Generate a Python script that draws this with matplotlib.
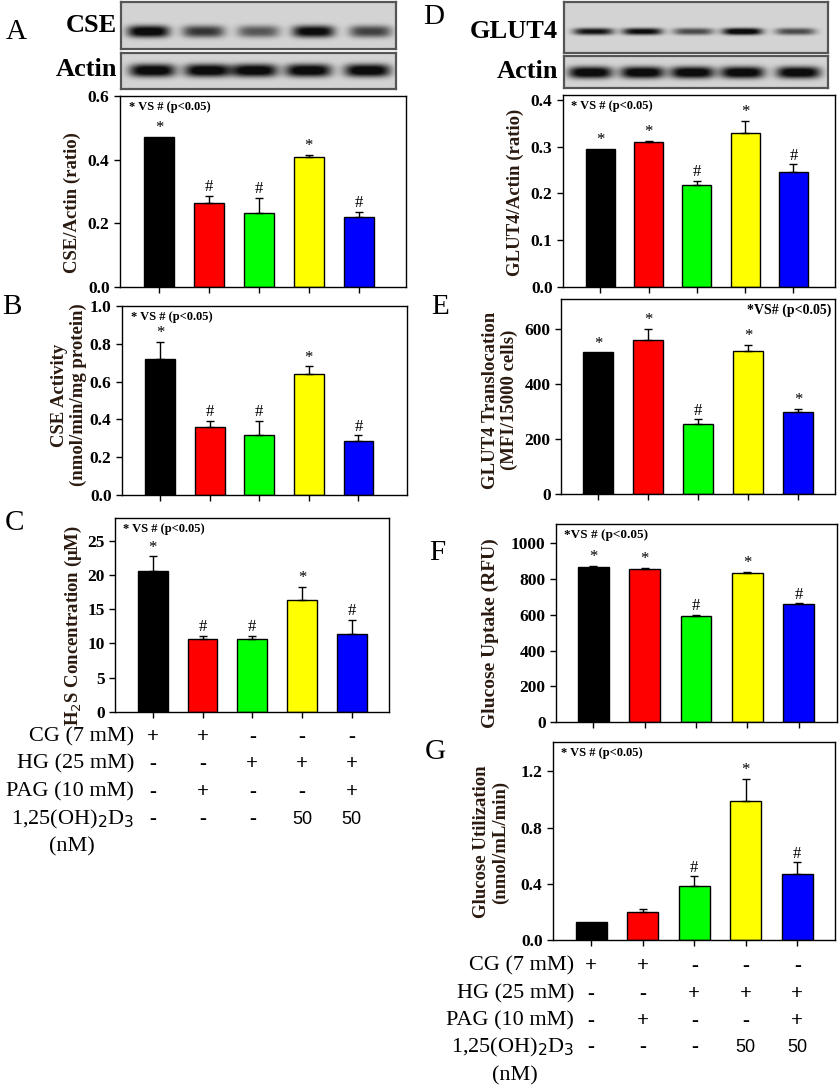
import numpy as np
import matplotlib
matplotlib.use("Agg")
import matplotlib.pyplot as plt
from matplotlib.transforms import blended_transform_factory

W, H, DPI = 840, 1088, 100
SERIF = "Liberation Serif"
SANS = "Liberation Sans"

# ---------------- data ----------------
groups = ["CG", "CG+PAG", "HG", "HG+D3", "HG+PAG+D3"]
colors = ["#000000", "#ff0000", "#00ff00", "#ffff00", "#0000ff"]

cse_ratio = [0.471, 0.264, 0.232, 0.408, 0.220]
cse_ratio_err = [0.0, 0.022, 0.047, 0.007, 0.016]
cse_ratio_sig = ["*", "#", "#", "*", "#"]

cse_activity = [0.722, 0.361, 0.315, 0.639, 0.287]
cse_activity_err = [0.088, 0.031, 0.076, 0.041, 0.028]
cse_activity_sig = ["*", "#", "#", "*", "#"]

h2s_conc = [20.5, 10.7, 10.7, 16.3, 11.4]
h2s_conc_err = [2.2, 0.4, 0.4, 2.0, 2.0]
h2s_sig = ["*", "#", "#", "*", "#"]

glut4_ratio = [0.295, 0.309, 0.217, 0.329, 0.246]
glut4_ratio_err = [0.0, 0.003, 0.010, 0.026, 0.016]
glut4_ratio_sig = ["*", "*", "#", "*", "#"]

glut4_transloc = [514, 560, 254, 518, 296]
glut4_transloc_err = [0, 39, 17, 24, 12]
glut4_transloc_sig = ["*", "*", "#", "*", "*"]

glucose_uptake = [865, 856, 594, 832, 658]
glucose_uptake_err = [8, 6, 6, 7, 6]
glucose_uptake_sig = ["*", "*", "#", "*", "#"]

glucose_util = [0.130, 0.201, 0.383, 0.989, 0.473]
glucose_util_err = [0.0, 0.021, 0.071, 0.159, 0.081]
glucose_util_sig = ["", "", "#", "*", "#"]

# blot band intensities (relative darkness)
cse_band = [1.0, 0.7, 0.55, 0.95, 0.65]
glut4_band = [0.85, 0.9, 0.6, 1.0, 0.6]
actin_band = [1.0, 1.0, 1.0, 1.0, 1.0]

table_labels = ["CG (7 mM)", "HG (25 mM)", "PAG (10 mM)", "1,25(OH)$_2$D$_3$"]
table_rows = [["+", "+", "-", "-", "-"],
              ["-", "-", "+", "+", "+"],
              ["-", "+", "-", "-", "+"],
              ["-", "-", "-", "50", "50"]]

fig = plt.figure(figsize=(W / DPI, H / DPI), dpi=DPI)
fig.patch.set_facecolor("white")


def px_ax(l, t, r, b):
    return fig.add_axes([l / W, 1 - b / H, (r - l) / W, (b - t) / H])


def ftext(x, y, s, **kw):
    return fig.text(x / W, 1 - y / H, s, **kw)


def bar_panel(box, vals, errs, sigs, xlim, ylim, yticks, yfmt, note, note_pos="left", note_size=9):
    ax = px_ax(*box)
    x = np.arange(len(vals))
    ax.bar(x, vals, width=0.6, color=colors, edgecolor="black", linewidth=1.0, zorder=2)
    errs = np.asarray(errs, float)
    m = errs > 0
    ax.errorbar(x[m], np.asarray(vals)[m], yerr=[np.zeros(m.sum()), errs[m]], fmt="none",
                ecolor="black", elinewidth=1.0, capsize=3, capthick=1.0, zorder=3)
    for xi, v, e, s in zip(x, vals, errs, sigs):
        if s:
            ax.annotate(s, (xi, v + e), xytext=(0, 0.5), textcoords="offset points",
                        ha="center", va="bottom", fontsize=12, family=SERIF)
    ax.set_xlim(*xlim)
    ax.set_ylim(*ylim)
    ax.set_yticks(yticks)
    ax.set_yticklabels([yfmt.format(t) for t in yticks])
    ax.set_xticks(x)
    ax.set_xticklabels([])
    ax.tick_params(axis="both", direction="out", length=4, width=1.0)
    for lab in ax.get_yticklabels():
        lab.set_fontfamily(SERIF)
        lab.set_fontweight("bold")
        lab.set_fontsize(12.5)
    for sp in ax.spines.values():
        sp.set_linewidth(1.0)
    if note_pos == "left":
        ax.text(0.03, 0.975, note, transform=ax.transAxes, ha="left", va="top",
                fontsize=note_size, family=SERIF, fontweight="bold")
    else:
        ax.text(0.985, 0.975, note, transform=ax.transAxes, ha="right", va="top",
                fontsize=note_size, family=SERIF, fontweight="bold")
    return ax


def blot(box, lanes_px, intens, band_w, band_h, band_y):
    l, t, r, b = box
    ax = px_ax(l, t, r, b)
    w, h = int(r - l), int(b - t)
    xx, yy = np.meshgrid(np.arange(w), np.arange(h))
    img = np.full((h, w), 0.83)
    for cx, it in zip(lanes_px, intens):
        cxl = cx - l
        prof = np.exp(-(np.abs((xx - cxl) / (band_w / 2)) ** 4)) * \
            np.exp(-(np.abs((yy - band_y) / (band_h / 2)) ** 2.5))
        img = img - 0.9 * it * prof
    img = np.clip(img, 0.05, 1)
    ax.imshow(img, cmap="gray", vmin=0, vmax=1, aspect="auto", interpolation="bilinear")
    ax.set_xticks([])
    ax.set_yticks([])
    for sp in ax.spines.values():
        sp.set_linewidth(1.6)
        sp.set_edgecolor("#555555")
    return ax


def ylab(x, y, s, size=13.5):
    ftext(x, y, s, rotation=90, ha="center", va="center", fontsize=size,
          family=SERIF, fontweight="bold", color="#2a1a10", linespacing=1.1)


# ---------------- blots ----------------
blot((121, 2, 396, 49), [148, 203, 258, 313, 370], cse_band, 42, 12, 29)
blot((121, 53, 396, 89), [152, 207, 254, 308, 367], actin_band, 46, 13, 17)
ftext(117, 26, "CSE", ha="right", va="center", fontsize=19, family=SERIF, fontweight="bold")
ftext(117, 70, "Actin", ha="right", va="center", fontsize=19, family=SERIF, fontweight="bold")

blot((564, 2, 828, 53), [593, 642, 693, 742, 795], glut4_band, 40, 7, 29)
blot((564, 56, 828, 88), [590, 642, 692, 742, 798], actin_band, 44, 12, 16)
ftext(558, 32, "GLUT4", ha="right", va="center", fontsize=19, family=SERIF, fontweight="bold")
ftext(558, 72, "Actin", ha="right", va="center", fontsize=19, family=SERIF, fontweight="bold")

# ---------------- panels ----------------
axA = bar_panel((120, 96, 406, 287), cse_ratio, cse_ratio_err, cse_ratio_sig,
                (-0.78, 4.95), (0, 0.6), [0, 0.2, 0.4, 0.6], "{:.1f}", "* VS # (p<0.05)")
axB = bar_panel((122, 306, 407, 495), cse_activity, cse_activity_err, cse_activity_sig,
                (-0.77, 4.98), (0, 1.0), [0, 0.2, 0.4, 0.6, 0.8, 1.0], "{:.1f}", "* VS # (p<0.05)")
axC = bar_panel((115, 518, 389, 712), h2s_conc, h2s_conc_err, h2s_sig,
                (-0.76, 4.75), (0, 28.3), [0, 5, 10, 15, 20, 25], "{:d}", "* VS # (p<0.05)")
axD = bar_panel((563, 95, 835, 287), glut4_ratio, glut4_ratio_err, glut4_ratio_sig,
                (-0.77, 4.86), (0, 0.41), [0, 0.1, 0.2, 0.3, 0.4], "{:.1f}", "* VS # (p<0.05)")
axE = bar_panel((561, 299, 835, 494), glut4_transloc, glut4_transloc_err, glut4_transloc_sig,
                (-0.74, 4.73), (0, 708), [0, 200, 400, 600], "{:d}", "*VS# (p<0.05)",
                note_pos="right", note_size=10)
axF = bar_panel((556, 524, 837, 722), glucose_uptake, glucose_uptake_err, glucose_uptake_sig,
                (-0.73, 4.75), (0, 1108), [0, 200, 400, 600, 800, 1000], "{:d}", "*VS # (p<0.05)",
                note_size=9.5)
axG = bar_panel((553, 742, 835, 940), glucose_util, glucose_util_err, glucose_util_sig,
                (-0.74, 4.73), (0, 1.41), [0, 0.4, 0.8, 1.2], "{:.1f}", "* VS # (p<0.05)")

# y labels
ylab(72, 203, "CSE/Actin (ratio)", 13.5)
ylab(69, 395, "CSE Activity\n(nmol/min/mg protein)", 13.5)
ylab(73, 625, "H$_2$S Concentration (\u03bcM)", 13.5)
ylab(515, 192, "GLUT4/Actin (ratio)", 13.5)
ylab(500, 400, "GLUT4 Translocation\n(MFI/15000 cells)", 13.5)
ylab(490, 633, "Glucose Uptake (RFU)", 14)
ylab(491, 842, "Glucose Utilization\n(nmol/mL/min)", 13.5)

# panel letters
for lx, ly, L in [(16, 32, "A"), (12, 307, "B"), (14, 523, "C"), (434, 17, "D"),
                  (440, 307, "E"), (437, 553, "F"), (435, 752, "G")]:
    ftext(lx, ly, L, ha="center", va="center", fontsize=21, family=SERIF)


# ---------------- treatment tables ----------------
def table(ax, label_right, row_y, nm_y, nm_x):
    tr = blended_transform_factory(ax.transData, fig.transFigure)
    for lab, row, yy in zip(table_labels, table_rows, row_y):
        ftext(label_right, yy, lab, ha="right", va="center", fontsize=16, family=SERIF)
        for i, s in enumerate(row):
            if s in "+-":
                fig.text(i, 1 - yy / H, s, transform=tr, ha="center", va="center",
                         fontsize=15, family=SERIF, fontweight="bold")
            else:
                fig.text(i, 1 - yy / H, s, transform=tr, ha="center", va="center",
                         fontsize=13, family=SANS)
    ftext(nm_x, nm_y, "(nM)", ha="center", va="center", fontsize=16, family=SERIF)


table(axC, 134, [737, 764, 792, 819], 847, 72)
table(axG, 574, [966, 994, 1021, 1047], 1076, 515)

fig.savefig("out.png", dpi=DPI, facecolor="white")
